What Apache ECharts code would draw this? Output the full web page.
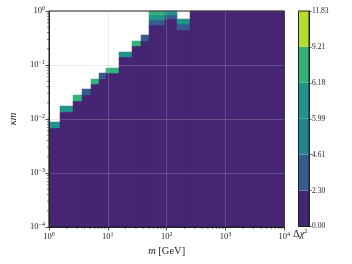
<!DOCTYPE html>
<html><head><meta charset="utf-8">
<script src="https://cdn.jsdelivr.net/npm/echarts@6/dist/echarts.min.js"></script>
<style>html,body{margin:0;padding:0;background:#fff}#c{width:352px;height:264px}</style>
</head><body><div id="c"></div>
<script>
// Column edges in m [GeV]
const massEdges = [1, 1.52, 2.55, 3.6, 5.09, 7.2, 9.27, 15.5, 25.5, 36.1, 50.9, 92.7, 150.7, 251, 10000];
// κm where Δχ² leaves the lowest level (top of purple region) per column
const purpleTop = [0.0069, 0.01365, 0.0218, 0.0278, 0.0439, 0.0551, 0.0702, 0.1425, 0.225, 0.278, 0.551, 0.702, 0.445, 1.0];
// further bands above purple: level index and top κm
const bandLevels = [[3],[3],[4],[1],[4],[1],[4],[3],[4],[1],[1,3,4],[1,3],[1,3],[]];
const bandTops = [[0.00869],[0.01763],[0.0278],[0.0355],[0.0551],[0.0702],[0.0891],[0.1763],[0.278],[0.359],[0.681,0.843,1.0],[0.843,1.0],[0.574,0.711],[]];
const levelLabels = ['0.00','2.30','4.61','5.99','6.18','9.21','11.83'];
const levelColors = ['#472575','#365c8d','#26848e','#21928c','#33b37a','#b4dd2c'];
const xMinorTicks = [2,3,4,5,6,7,8,9,20,30,40,50,60,70,80,90,200,300,400,500,600,700,800,900,2000,3000,4000,5000,6000,7000,8000,9000];
const yMinorTicks = [2e-4,3e-4,4e-4,5e-4,6e-4,7e-4,8e-4,9e-4,2e-3,3e-3,4e-3,5e-3,6e-3,7e-3,8e-3,9e-3,0.02,0.03,0.04,0.05,0.06,0.07,0.08,0.09,0.2,0.3,0.4,0.5,0.6,0.7,0.8,0.9];
const kmMin = 1e-4, kmMax = 1, mMin = 1, mMax = 10000;

const cells = [];
for (let i = 0; i < purpleTop.length; i++) {
  const x0 = massEdges[i], x1 = massEdges[i+1];
  cells.push([x0, x1, kmMin, purpleTop[i], 0]);
  let prev = purpleTop[i];
  for (let j = 0; j < bandLevels[i].length; j++) {
    cells.push([x0, x1, prev, bandTops[i][j], bandLevels[i][j]]);
    prev = bandTops[i][j];
  }
}

const FONT = 'Liberation Serif';
const supFmt = v => {
  const e = Math.round(Math.log10(v));
  return '{b|10}{s|' + (e < 0 ? '\u2212' + (-e) : e) + '}';
};
const labelRich = {
  b: {fontFamily: FONT, fontSize: 8.5, color: '#222'},
  s: {fontFamily: FONT, fontSize: 6, color: '#222', padding: [0,0,5,0]}
};

const chart = echarts.init(document.getElementById('c'), null, {renderer: 'canvas'});
const series = [
  {
    type: 'custom', xAxisIndex: 0, yAxisIndex: 0, data: cells, z: 2,
    encode: {x: [0,1], y: [2,3]},
    renderItem: (params, api) => {
      const p0 = api.coord([api.value(0), api.value(2)]);
      const p1 = api.coord([api.value(1), api.value(3)]);
      const xa = Math.round(Math.min(p0[0], p1[0])), xb = Math.round(Math.max(p0[0], p1[0]));
      const ya = Math.round(Math.min(p0[1], p1[1])), yb = Math.round(Math.max(p0[1], p1[1]));
      return {type: 'rect', shape: {x: xa, y: ya, width: xb - xa, height: yb - ya},
        style: {fill: levelColors[api.value(4)], stroke: levelColors[api.value(4)], lineWidth: 0.5}};
    }
  },
  {
    type: 'custom', xAxisIndex: 0, yAxisIndex: 0, clip: false, silent: true, z: 6,
    data: xMinorTicks.map(v => [v, kmMin]),
    renderItem: (params, api) => {
      const p = api.coord([api.value(0), api.value(1)]);
      return {type: 'line', shape: {x1: p[0], y1: p[1], x2: p[0], y2: p[1] + 2}, style: {stroke: '#222', lineWidth: 0.6}};
    }
  },
  {
    type: 'custom', xAxisIndex: 0, yAxisIndex: 0, clip: false, silent: true, z: 6,
    data: yMinorTicks.map(v => [mMin, v]),
    renderItem: (params, api) => {
      const p = api.coord([api.value(0), api.value(1)]);
      return {type: 'line', shape: {x1: p[0], y1: p[1], x2: p[0] - 2, y2: p[1]}, style: {stroke: '#222', lineWidth: 0.6}};
    }
  }
];
for (let k = 0; k < levelColors.length; k++) {
  series.push({type: 'bar', xAxisIndex: 1, yAxisIndex: 1, stack: 'cb', data: [1], barWidth: '100%',
    itemStyle: {color: levelColors[k]}, silent: true});
}

chart.setOption({
  animation: false,
  grid: [
    {left: 44.3, top: 11, width: 240, height: 216, show: true, borderColor: '#222', borderWidth: 1, backgroundColor: 'transparent', z: 8},
    {left: 298.5, top: 11, width: 10.5, height: 215.5, show: true, borderColor: '#222', borderWidth: 1, backgroundColor: 'transparent', z: 8}
  ],
  xAxis: [
    {type: 'log', logBase: 10, min: mMin, max: mMax, gridIndex: 0, z: 5,
     name: '{i|m} [GeV]', nameLocation: 'middle', nameGap: 17,
     nameTextStyle: {fontFamily: FONT, fontSize: 10.5, color: '#222', rich: {i: {fontFamily: FONT, fontStyle: 'italic', fontSize: 10.5, color: '#222'}}},
     axisLine: {show: true, lineStyle: {color: '#222', width: 1}},
     axisTick: {show: true, length: 3.5, lineStyle: {color: '#222', width: 0.8}},
     axisLabel: {formatter: supFmt, rich: labelRich, margin: 4},
     splitLine: {show: true, lineStyle: {color: 'rgba(190,190,190,0.35)', width: 0.8}},
     minorTick: {show: false}
    },
    {type: 'category', gridIndex: 1, data: ['cb'], show: false}
  ],
  yAxis: [
    {type: 'log', logBase: 10, min: kmMin, max: kmMax, gridIndex: 0, z: 5,
     name: '{i|\u03BAm}', nameLocation: 'middle', nameGap: 30, nameRotate: 90,
     nameTextStyle: {fontFamily: FONT, fontSize: 10.5, color: '#222', rich: {i: {fontFamily: FONT, fontStyle: 'italic', fontSize: 10.5, color: '#222'}}},
     axisLine: {show: true, lineStyle: {color: '#222', width: 1}},
     axisTick: {show: true, length: 3.5, lineStyle: {color: '#222', width: 0.8}},
     axisLabel: {formatter: supFmt, rich: labelRich, margin: 4},
     splitLine: {show: true, lineStyle: {color: 'rgba(190,190,190,0.35)', width: 0.8}}
    },
    {type: 'value', gridIndex: 1, min: 0, max: 6, interval: 1, position: 'right', z: 5,
     axisLine: {show: true, lineStyle: {color: '#222', width: 1}},
     axisTick: {show: true, length: 2.5, lineStyle: {color: '#222', width: 0.8}},
     axisLabel: {formatter: v => levelLabels[v], fontFamily: FONT, fontSize: 7.5, color: '#222', margin: 3},
     splitLine: {show: false}
    }
  ],
  graphic: [
    {type: 'text', left: 293, top: 228, style: {text: '\u0394{i|\u03C7}{s|2}', fontFamily: FONT, fontSize: 10.5, fill: '#222',
      rich: {i: {fontFamily: FONT, fontStyle: 'italic', fontSize: 10.5, fill: '#222'}, s: {fontFamily: FONT, fontSize: 6.5, fill: '#222', padding: [0,0,6,0]}}}}
  ],
  series: series
});
</script></body></html>
